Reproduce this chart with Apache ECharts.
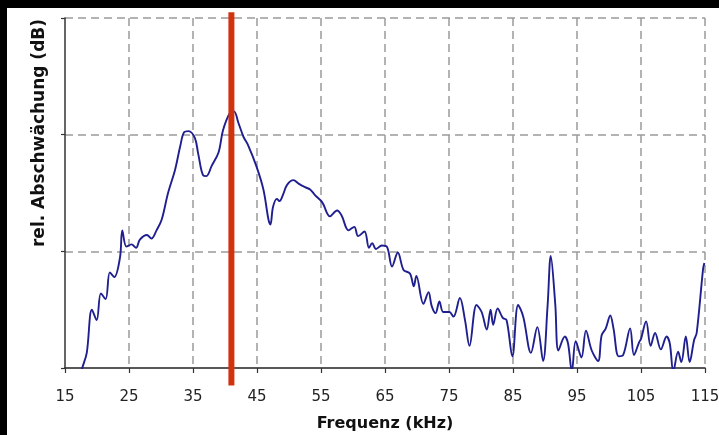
<!DOCTYPE html>
<html>
<head>
<meta charset="utf-8">
<script src="https://cdn.jsdelivr.net/npm/echarts@6/dist/echarts.min.js"></script>
<style>
  html, body { margin: 0; padding: 0; background: #fff; }
  #chart { width: 719px; height: 435px; }
</style>
</head>
<body>
<div id="chart"></div>
<script>
// Frequenz (kHz) und relative Abschwächung
var freqKHz = [17.5, 17.7, 18.4, 19.2, 19.95, 20.6, 21.35, 22.0, 22.7, 23.6, 23.95, 24.6, 25.4, 26.1, 26.7, 27.8, 28.5, 29.3, 30.1, 31.1,
  32.2, 33.0, 33.6, 34.3, 35.3, 35.8, 36.6, 37.1, 37.9, 39.0, 39.7, 40.8, 41.4, 42.1, 42.9, 43.6, 44.9, 46.0, 46.8, 47.1,
  47.5, 48.1, 48.5, 49.1, 49.7, 50.7, 51.5, 52.5, 53.3, 54.1, 55.2, 56.4, 57.5, 58.2, 59.3, 60.2, 60.8, 61.8, 62.5, 63.0,
  63.6, 64.5, 65.3, 66.1, 67.0, 67.9, 68.9, 69.5, 69.9, 71.0, 71.8, 72.3, 72.9, 73.5, 74.1, 75.05, 75.7, 76.7, 77.5, 78.2,
  79.3, 80.1, 80.9, 81.5, 81.9, 82.6, 83.4, 84.0, 84.9, 85.8, 86.6, 87.8, 88.8, 89.7, 90.4, 90.9, 91.6, 92.1, 93.1, 93.6,
  94.2, 94.8, 95.7, 96.4, 97.3, 98.3, 98.85, 99.5, 100.2, 100.7, 101.5, 102.2, 103.3, 103.9, 104.7, 105.0, 105.8, 106.5, 107.2, 108.1,
  109.0, 109.5, 110.05, 110.8, 111.3, 112.0, 112.6, 113.3, 113.7, 114.7, 114.9];
var level = [-0.05, 0, 0.13, 0.50, 0.41, 0.64, 0.59, 0.82, 0.78, 0.95, 1.18, 1.04, 1.06, 1.03, 1.10, 1.14, 1.11, 1.18, 1.27, 1.50,
  1.70, 1.90, 2.02, 2.03, 1.97, 1.84, 1.65, 1.645, 1.73, 1.85, 2.04, 2.19, 2.20, 2.10, 1.98, 1.91, 1.73, 1.53, 1.27, 1.23,
  1.38, 1.45, 1.43, 1.49, 1.57, 1.61, 1.58, 1.55, 1.53, 1.48, 1.42, 1.30, 1.35, 1.31, 1.18, 1.21, 1.13, 1.17, 1.03, 1.07,
  1.02, 1.05, 1.04, 0.87, 0.99, 0.84, 0.81, 0.70, 0.79, 0.55, 0.65, 0.53, 0.47, 0.57, 0.48, 0.48, 0.44, 0.60, 0.41, 0.19,
  0.54, 0.48, 0.33, 0.50, 0.37, 0.51, 0.43, 0.41, 0.10, 0.54, 0.44, 0.13, 0.35, 0.06, 0.53, 0.96, 0.55, 0.15, 0.27, 0.21,
  -0.03, 0.23, 0.09, 0.32, 0.15, 0.06, 0.28, 0.34, 0.45, 0.34, 0.10, 0.11, 0.34, 0.11, 0.22, 0.25, 0.40, 0.19, 0.30, 0.16,
  0.27, 0.21, -0.03, 0.14, 0.05, 0.27, 0.05, 0.24, 0.30, 0.85, 0.90];
// rote Markierung bei 41 kHz
var markerFreq = 41;
var markerRange = [-0.15, 3.05];
var xTicks = { min: 15, max: 115, step: 10 };
var yTicks = { min: 0, max: 3, step: 1 };

var curve = freqKHz.map(function (f, i) { return [f, level[i]]; });
var marker = markerRange.map(function (v) { return [markerFreq, v]; });

var chart = echarts.init(document.getElementById('chart'));
// erste Gitterlinie liegt auf der Achse -> unsichtbar
var dashed = { color: ['rgba(0,0,0,0)', '#9a9a9a', '#9a9a9a', '#9a9a9a', '#9a9a9a', '#9a9a9a', '#9a9a9a', '#9a9a9a', '#9a9a9a', '#9a9a9a', '#9a9a9a'], width: 1.5, type: [8, 5] };
var option = {
  animation: false,
  backgroundColor: '#fff',
  grid: { left: 65, right: 14, top: 18, bottom: 67, outerBoundsMode: 'none' },
  graphic: [
    { type: 'rect', shape: { x: 0, y: 0, width: 719, height: 8 }, style: { fill: '#000' } },
    { type: 'rect', shape: { x: 0, y: 0, width: 7, height: 435 }, style: { fill: '#000' } },
    {
      type: 'text', x: 40, y: 133, rotation: Math.PI / 2,
      style: {
        text: 'rel. Abschwächung (dB)', fill: '#111',
        font: 'bold 17px "DejaVu Sans"', align: 'center', verticalAlign: 'middle'
      }
    }
  ],
  xAxis: {
    type: 'value',
    min: xTicks.min, max: xTicks.max, interval: xTicks.step,
    name: 'Frequenz (kHz)', nameLocation: 'middle', nameGap: 48,
    nameTextStyle: { fontFamily: 'DejaVu Sans', fontWeight: 'bold', fontSize: 16, color: '#111' },
    axisLine: { show: true, onZero: false, lineStyle: { color: '#222', width: 1.6 } },
    axisTick: { show: true, length: 5, lineStyle: { color: '#333', width: 1.2 } },
    axisLabel: { interval: 0, fontFamily: 'DejaVu Sans', fontSize: 15, color: '#222', margin: 22, hideOverlap: false, showMinLabel: true, showMaxLabel: true },
    splitLine: { show: true, lineStyle: dashed }
  },
  yAxis: {
    type: 'value',
    min: yTicks.min, max: yTicks.max, interval: yTicks.step,
    axisLine: { show: true, lineStyle: { color: '#333', width: 1.5 } },
    axisTick: { show: true, length: 4, lineStyle: { color: '#333', width: 1.2 } },
    axisLabel: { show: false },
    splitLine: { show: true, lineStyle: dashed }
  },
  series: [
    {
      type: 'line', data: curve, smooth: 0.35, showSymbol: false, symbol: 'none',
      lineStyle: { color: '#1f1f8f', width: 1.9 }, z: 3
    },
    {
      type: 'line', data: marker, clip: false, showSymbol: false, symbol: 'none',
      lineStyle: { color: '#d1330f', width: 6 }, z: 4
    }
  ]
};
chart.setOption(option);
</script>
</body>
</html>
